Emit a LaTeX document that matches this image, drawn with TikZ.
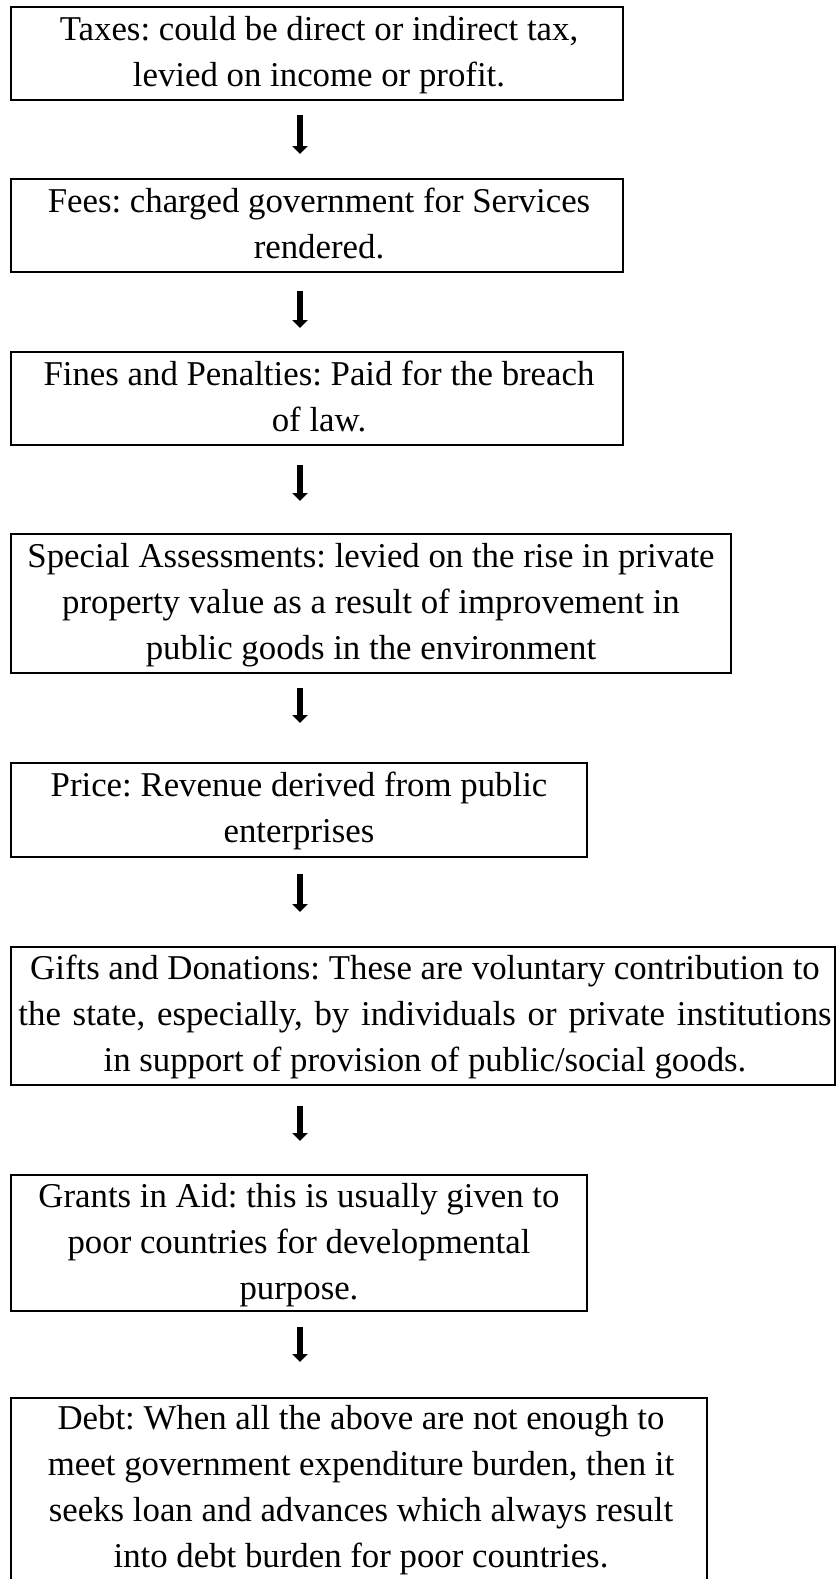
\documentclass[tikz,border=0pt]{standalone}
\usepackage{fontspec}
\setmainfont{Liberation Serif}
\frenchspacing
\usetikzlibrary{arrows.meta,calc}
\begin{document}
\begin{tikzpicture}[x=0.5pt,y=0.5pt,
  box/.style={draw,line width=1pt,inner sep=0pt,outer sep=0pt,anchor=north west},
  txt/.style={inner sep=0pt,outer sep=0pt,anchor=base,align=center,
    font=\fontsize{17.4pt}{22.85pt}\selectfont},
  arr/.style={line width=3pt,-{Triangle[width=7.5pt,length=4pt]}}]
\useasboundingbox (0,0) rectangle (837,-1579);
\coordinate (ax) at (300,0);
% boxes
\node[box,minimum width=306pt,minimum height=46.5pt] (b1) at (11,-7) {};
\node[box,minimum width=306pt,minimum height=46.5pt] (b2) at (11,-179) {};
\node[box,minimum width=306pt,minimum height=46.5pt] (b3) at (11,-352) {};
\node[box,minimum width=360pt,minimum height=69.5pt] (b4) at (11,-534) {};
\node[box,minimum width=288pt,minimum height=47pt] (b5) at (11,-763) {};
\node[box,minimum width=412pt,minimum height=69pt] (b6) at (11,-947) {};
\node[box,minimum width=288pt,minimum height=68pt] (b7) at (11,-1175) {};
\node[box,minimum width=348pt,minimum height=101pt] (b8) at (11,-1398) {};
% texts (anchored at the baseline of the last line)
\node[txt] (t1) at ($(b1.north)+(2,-79)$) {Taxes: could be direct or indirect tax,\\levied on income or profit.};
\node[txt] (t2) at ($(b2.north)+(2,-79)$) {Fees: charged government for Services\\rendered.};
\node[txt] (t3) at ($(b3.north)+(2,-79)$) {Fines and Penalties: Paid for the breach\\of law.};
\node[txt] (t4) at ($(b4.north)+(0,-125)$) {Special Assessments: levied on the rise in private\\property value as a result of improvement in\\public goods in the environment};
\node[txt] (t5) at ($(b5.north)+(0,-79)$) {Price: Revenue derived from public\\enterprises};
\node[txt] (t6) at ($(b6.north)+(2,-124)$) {Gifts and Donations: These are voluntary contribution to\\{\spaceskip=0.34em\relax the state, especially, by individuals or private institutions}\\in support of provision of public/social goods.};
\node[txt] (t7) at ($(b7.north)+(0,-124)$) {Grants in Aid: this is usually given to\\poor countries for developmental\\purpose.};
\node[txt] (t8) at ($(b8.north)+(2,-169)$) {Debt: When all the above are not enough to\\meet government expenditure burden, then it\\seeks loan and advances which always result\\into debt burden for poor countries.};
% arrows
\draw[arr] ($(b1.south -| ax)+(0,-15)$) -- ($(b2.north -| ax)+(0,25)$);
\draw[arr] ($(b2.south -| ax)+(0,-19)$) -- ($(b3.north -| ax)+(0,24)$);
\draw[arr] ($(b3.south -| ax)+(0,-20)$) -- ($(b4.north -| ax)+(0,33)$);
\draw[arr] ($(b4.south -| ax)+(0,-15)$) -- ($(b5.north -| ax)+(0,40)$);
\draw[arr] ($(b5.south -| ax)+(0,-17)$) -- ($(b6.north -| ax)+(0,35)$);
\draw[arr] ($(b6.south -| ax)+(0,-21)$) -- ($(b7.north -| ax)+(0,34)$);
\draw[arr] ($(b7.south -| ax)+(0,-16)$) -- ($(b8.north -| ax)+(0,36)$);
\end{tikzpicture}
\end{document}
